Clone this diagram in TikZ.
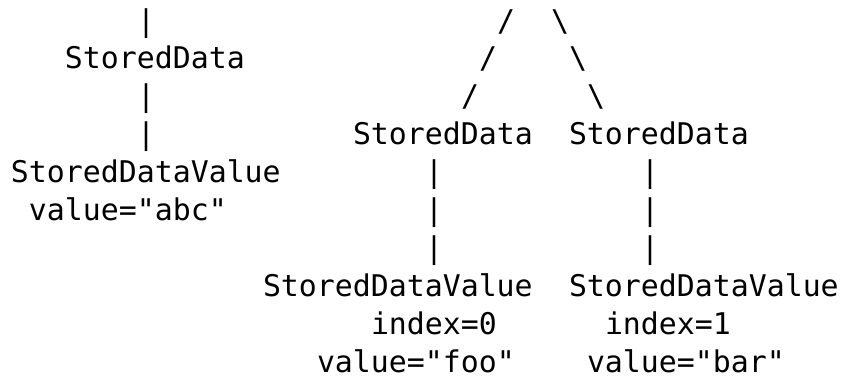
\documentclass[tikz,border=0pt]{standalone}
\usepackage{fontspec}
\setmonofont{DejaVu Sans Mono}

\tikzset{
  ascii/.style={anchor=base west, inner sep=0pt, outer sep=0pt,
    font=\ttfamily\fontsize{22.4}{27}\selectfont}
}

\begin{document}
\begin{tikzpicture}[x=13.5pt, y=-28.425pt]
          \useasboundingbox (-0.611,-0.818) rectangle (46.444,9.156);

          % left tree
          \node[ascii] (lpipeA) at (7,0) {|};
          \node[ascii] (ldata) at (3,1) {StoredData};
          \node[ascii] (lpipeB) at (7,2) {|};
          \node[ascii] (lpipeC) at (7,3) {|};
          \node[ascii] (lvalue) at (0,4) {StoredDataValue};
          \node[ascii] (lvaluetxt) at (1,5) {value="abc"};

          % right tree, the fork
          \node[ascii] (slashA) at (27,0) {/};
          \node[ascii] (bslashA) at (30,0) {\textbackslash};
          \node[ascii] (slashB) at (26,1) {/};
          \node[ascii] (bslashB) at (31,1) {\textbackslash};
          \node[ascii] (slashC) at (25,2) {/};
          \node[ascii] (bslashC) at (32,2) {\textbackslash};

          \node[ascii] (rdataA) at (19,3) {StoredData};
          \node[ascii] (rdataB) at (31,3) {StoredData};

          \node[ascii] (rpipeA1) at (23,4) {|};
          \node[ascii] (rpipeA2) at (23,5) {|};
          \node[ascii] (rpipeA3) at (23,6) {|};
          \node[ascii] (rpipeB1) at (35,4) {|};
          \node[ascii] (rpipeB2) at (35,5) {|};
          \node[ascii] (rpipeB3) at (35,6) {|};

          \node[ascii] (rvalueA) at (14,7) {StoredDataValue};
          \node[ascii] (rvalueB) at (31,7) {StoredDataValue};
          \node[ascii] (rindexA) at (20,8) {index=0};
          \node[ascii] (rindexB) at (33,8) {index=1};
          \node[ascii] (rvaluetxtA) at (17,9) {value="foo"};
          \node[ascii] (rvaluetxtB) at (32,9) {value="bar"};
        \end{tikzpicture}
\end{document}
